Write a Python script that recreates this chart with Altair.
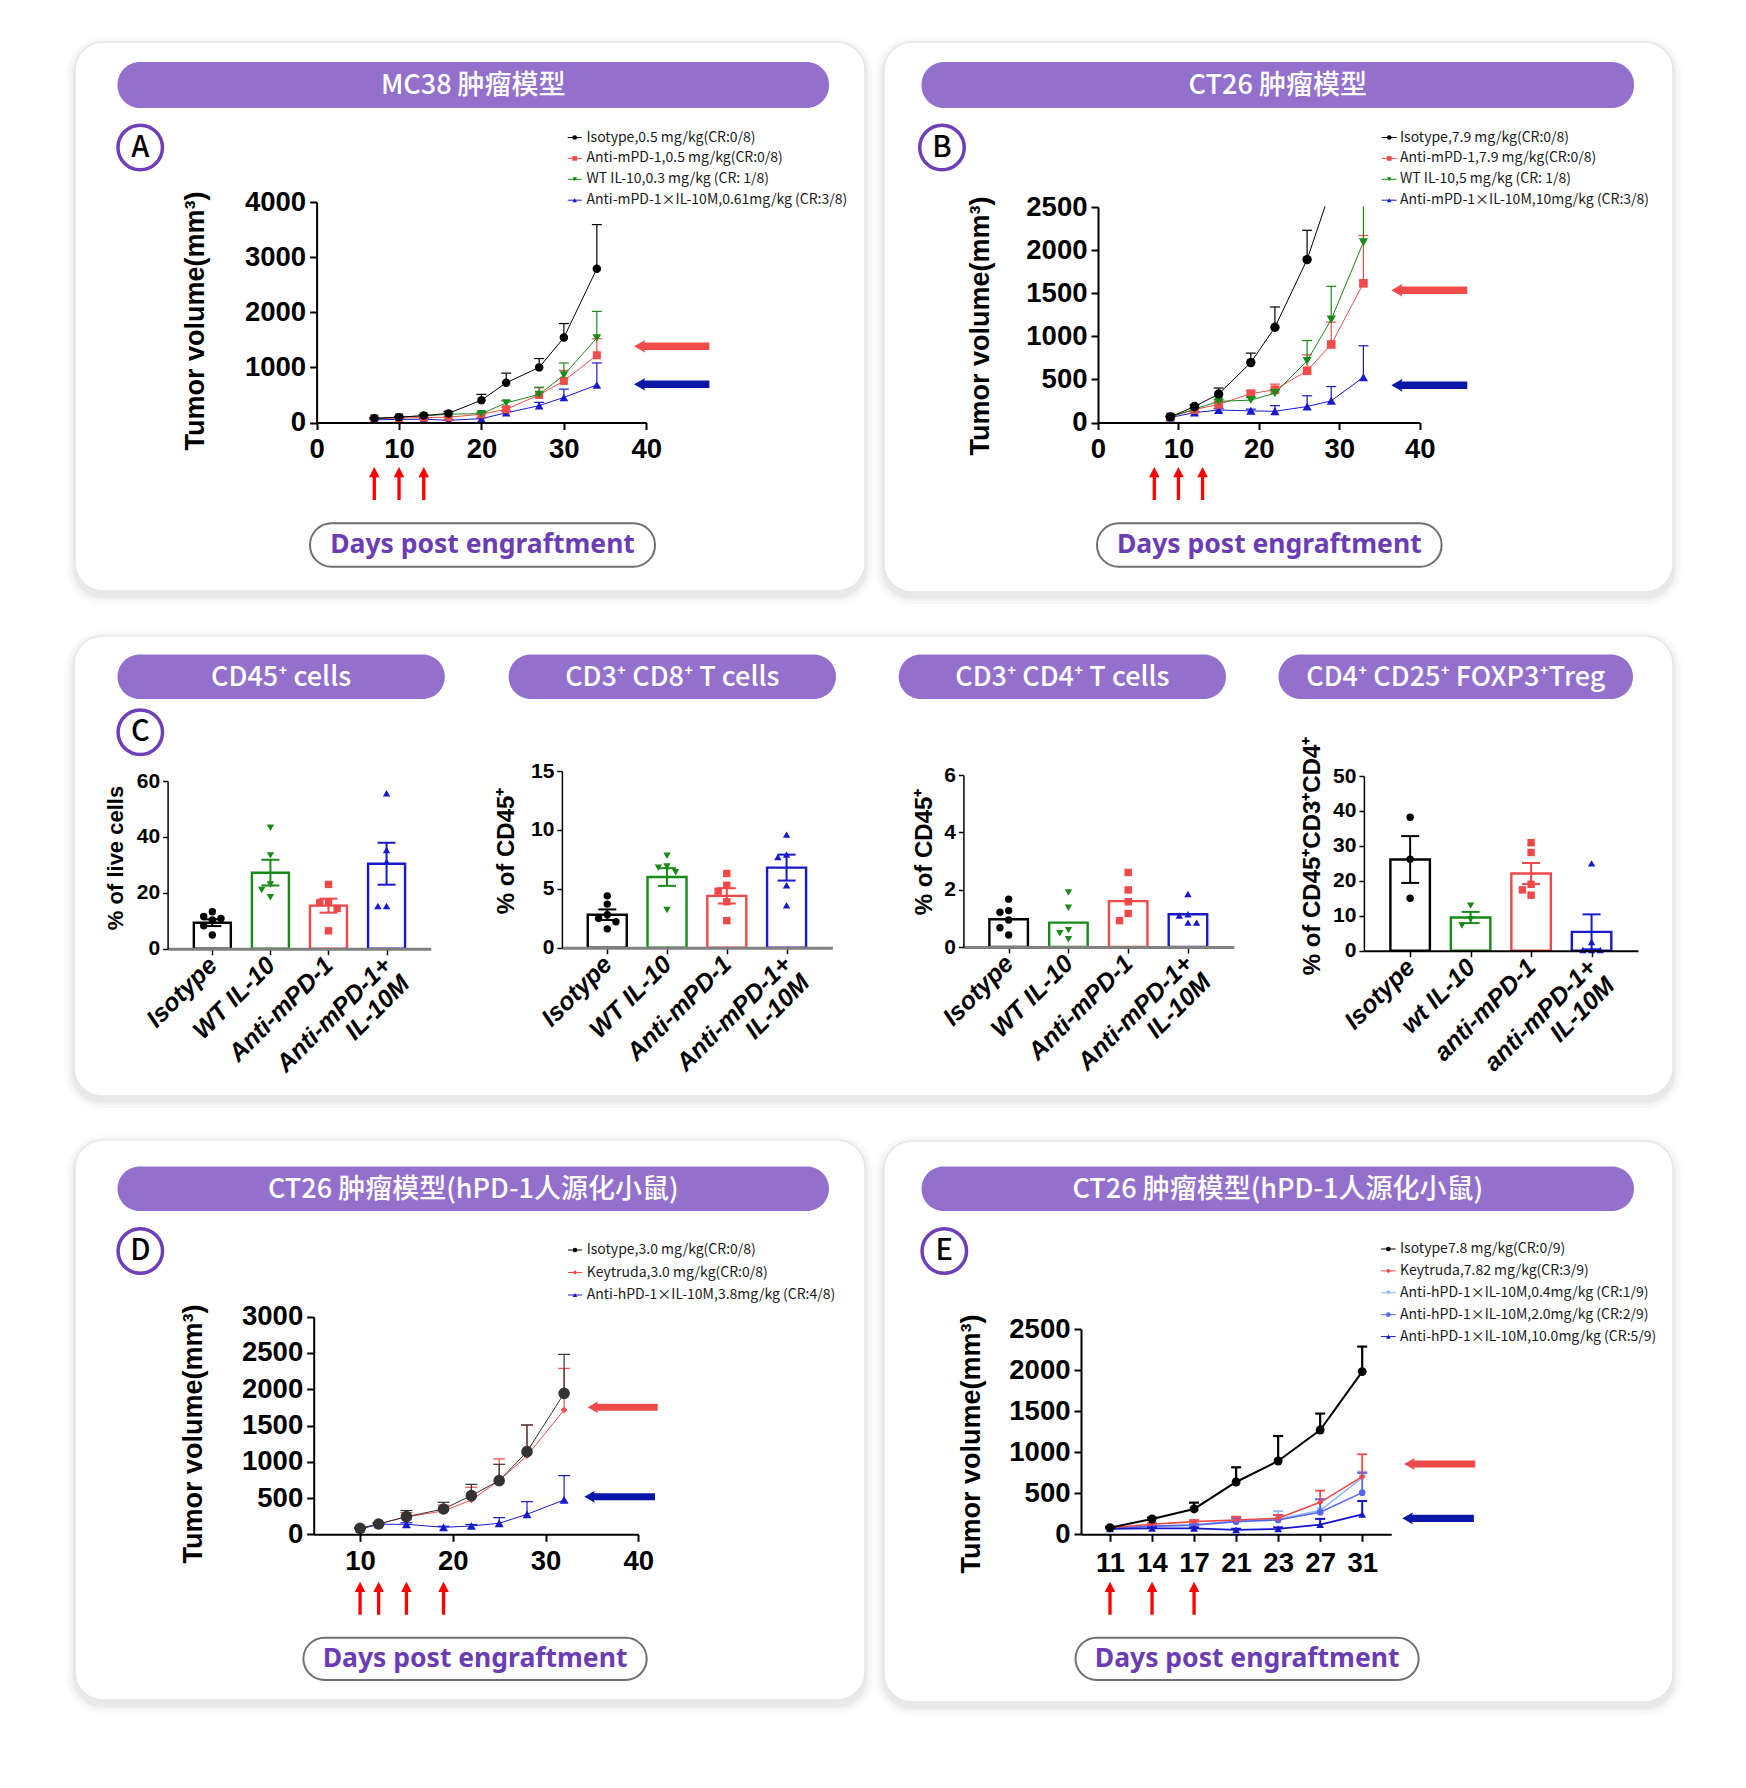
import altair as alt
import pandas as pd

# ======================= DATA =======================
# Panel A : MC38 tumour model
A_days = [7, 10, 13, 16, 20, 23, 27, 30, 34]
A_iso = [75, 95, 125, 165, 405, 720, 1000, 1540, 2790]
A_iso_sem = [10, 15, 20, 35, 105, 175, 160, 255, 800]
A_pd1 = [70, 80, 90, 95, 150, 240, 500, 755, 1220]
A_pd1_sem = [8, 10, 10, 12, 25, 40, 130, 190, 300]
A_il10 = [75, 100, 120, 150, 160, 355, 510, 860, 1535]
A_il10_sem = [10, 12, 15, 20, 25, 40, 130, 220, 480]
A_combo = [50, 55, 60, 40, 70, 175, 305, 455, 680]
A_combo_sem = [5, 8, 10, 10, 15, 30, 60, 150, 400]
A_dose = [7, 10, 13]
A_labels = ["Isotype,0.5 mg/kg(CR:0/8)", "Anti-mPD-1,0.5 mg/kg(CR:0/8)",
            "WT IL-10,0.3 mg/kg (CR: 1/8)", "Anti-mPD-1×IL-10M,0.61mg/kg (CR:3/8)"]

# Panel B : CT26 tumour model
B_days = [9, 12, 15, 19, 22, 26, 29, 33]
B_iso = [65, 185, 330, 695, 1105, 1890, 2720]
B_iso_sem = [10, 20, 70, 110, 235, 340, 0]
B_pd1 = [65, 150, 210, 335, 380, 600, 905, 1615]
B_pd1_sem = [10, 15, 25, 30, 65, 185, 260, 555]
B_il10 = [65, 155, 245, 260, 340, 715, 1195, 2090]
B_il10_sem = [10, 15, 20, 30, 40, 235, 385, 600]
B_combo = [58, 115, 145, 135, 130, 185, 252, 525]
B_combo_sem = [8, 10, 15, 20, 65, 125, 165, 365]
B_dose = [7, 10, 13]
B_labels = ["Isotype,7.9 mg/kg(CR:0/8)", "Anti-mPD-1,7.9 mg/kg(CR:0/8)",
            "WT IL-10,5 mg/kg (CR: 1/8)", "Anti-mPD-1×IL-10M,10mg/kg (CR:3/8)"]

# Panel C : flow cytometry bars
C_groups = ["Isotype", "WT IL-10", "Anti-mPD-1", "Anti-mPD-1+|IL-10M"]
C4_groups = ["Isotype", "wt IL-10", "anti-mPD-1", "anti-mPD-1+|IL-10M"]
C1_mean = [9.3, 27.2, 15.4, 30.4]
C1_sem = [1.2, 4.6, 2.5, 7.5]
C1_pts = [[13.2, 11.5, 10.8, 10.3, 8.2, 4.9], [43.3, 33.4, 23.0, 21.0, 18.4],
          [23.0, 16.7, 16.5, 14.4, 6.4], [55.6, 35.3, 31.1, 15.3, 15.3]]
C2_mean = [2.8, 6.0, 4.4, 6.8]
C2_sem = [0.45, 0.75, 0.65, 1.1]
C2_pts = [[4.4, 3.7, 2.8, 2.5, 2.2, 1.6], [7.8, 6.9, 6.8, 6.4, 3.2],
          [6.3, 5.3, 4.8, 3.9, 2.3], [9.6, 7.9, 7.7, 5.3, 3.6]]
C3_mean = [0.97, 0.85, 1.6, 1.14]
C3_pts = [[1.67, 1.27, 1.21, 0.94, 0.67, 0.42], [1.9, 1.37, 0.59, 0.48, 0.27],
          [2.6, 1.99, 1.58, 1.17, 0.92], [1.85, 1.14, 1.1, 0.85, 0.85]]
C4_mean = [26.1, 9.5, 22.1, 5.4]
C4_sem = [6.7, 1.6, 3.0, 5.0]
C4_pts = [[38.2, 26.2, 15.0], [12.9, 9.0, 7.2],
          [30.9, 28.1, 19.0, 17.4, 15.9], [25.0, 2.5, 0.2, 0.2, 0.2]]

# Panel D : CT26 in hPD-1 mice
D_days = [10, 12, 15, 19, 22, 25, 28, 32]
D_iso = [83, 142, 243, 349, 533, 740, 1139, 1943]
D_iso_sem = [10, 15, 85, 92, 156, 225, 368, 538]
D_key = [83, 145, 240, 322, 473, 740, 1084, 1714]
D_key_sem = [10, 15, 60, 80, 175, 300, 423, 574]
D_combo = [70, 138, 138, 96, 115, 152, 276, 473]
D_combo_sem = [10, 15, 20, 15, 20, 78, 174, 336]
D_dose = [10, 12, 15, 19]
D_labels = ["Isotype,3.0 mg/kg(CR:0/8)", "Keytruda,3.0 mg/kg(CR:0/8)",
            "Anti-hPD-1×IL-10M,3.8mg/kg (CR:4/8)"]

# Panel E : CT26 in hPD-1 mice, dose range
E_days = ["11", "14", "17", "21", "23", "27", "31"]
E_iso = [81, 187, 309, 638, 894, 1272, 1984]
E_iso_sem = [10, 15, 77, 179, 305, 200, 305]
E_key = [80, 122, 154, 175, 195, 390, 703]
E_key_sem = [10, 15, 20, 40, 40, 143, 273]
E_04 = [70, 100, 115, 163, 187, 289, 690]
E_04_sem = [8, 12, 15, 45, 95, 135, 75]
E_20 = [70, 100, 110, 154, 175, 268, 508]
E_20_sem = [8, 10, 15, 40, 60, 160, 240]
E_10 = [65, 73, 73, 53, 65, 118, 244]
E_10_sem = [8, 10, 12, 15, 20, 70, 162]
E_dose = ["11", "14", "17"]
E_labels = ["Isotype7.8 mg/kg(CR:0/9)", "Keytruda,7.82 mg/kg(CR:3/9)",
            "Anti-hPD-1×IL-10M,0.4mg/kg (CR:1/9)", "Anti-hPD-1×IL-10M,2.0mg/kg (CR:2/9)",
            "Anti-hPD-1×IL-10M,10.0mg/kg (CR:5/9)"]

# ======================= STYLE / LAYOUT =======================
W, H = 1730, 1772
M = 8


def X(v):
    return v - M


def Y(v):
    return v - M


NUM = "Liberation Sans, Arial, Helvetica, sans-serif"
CJK = "Noto Sans CJK SC, Noto Sans, sans-serif"
LAT = "Noto Sans, Noto Sans CJK SC, sans-serif"
PURPLE = "#9370CC"
RING = "#6E40B8"
DAYS_C = "#6B3DB5"
BLACK, RED, GREEN, BLUE = "#000000", "#F24B4B", "#178A17", "#1818CC"
ARROW_RED, ARROW_BLUE = "#F04B4B", "#0B17A6"
COLS_C = [BLACK, GREEN, "#F04848", BLUE]
SHP_C = ["circle", "triangle-down", "square", "triangle-up"]

LEFT_ARROW = "M -1 0 L -0.7 -0.17 L -0.73 -0.1 L 1 -0.1 L 1 0.1 L -0.73 0.1 L -0.7 0.17 Z"
UP_ARROW = "M 0 -1 L 0.32 -0.38 L 0.1 -0.38 L 0.1 1 L -0.1 1 L -0.1 -0.38 L -0.32 -0.38 Z"


def pxX(f="x"):
    return alt.X(f + ":Q", scale=None, axis=None)


def pxY(f="y"):
    return alt.Y(f + ":Q", scale=None, axis=None)


layers = []

# ---------- cards with soft shadow ----------
CARDS = [(75, 42, 865, 591), (884, 42, 1673, 592), (74, 636, 1673, 1096),
         (75, 1140, 865, 1700), (884, 1141, 1673, 1702)]
for grow, op in [(10, 0.012), (7, 0.018), (4, 0.024), (2, 0.03)]:
    d = pd.DataFrame([{"x": X(a) - grow, "x2": X(c) + grow, "y": Y(b) - grow + 4, "y2": Y(e) + grow + 5}
                      for a, b, c, e in CARDS])
    layers.append(alt.Chart(d).mark_rect(cornerRadius=28 + grow, color="#000000", opacity=op)
                  .encode(x=pxX(), x2="x2:Q", y=pxY(), y2="y2:Q"))
d = pd.DataFrame([{"x": X(a), "x2": X(c), "y": Y(b), "y2": Y(e)} for a, b, c, e in CARDS])
layers.append(alt.Chart(d).mark_rect(cornerRadius=28, fill="white", stroke="#E6E6E6", strokeWidth=1.5)
              .encode(x=pxX(), x2="x2:Q", y=pxY(), y2="y2:Q"))

# ---------- purple title pills ----------
PILLS = [(117.5, 62, 829, 108, "MC38 肿瘤模型"), (921.5, 62, 1634, 108, "CT26 肿瘤模型"),
         (117.5, 654.5, 444.8, 699, "CD45⁺ cells"), (508.6, 654.5, 836, 699, "CD3⁺ CD8⁺ T cells"),
         (898.7, 654.5, 1226, 699, "CD3⁺ CD4⁺ T cells"), (1278.5, 654.5, 1633, 699, "CD4⁺ CD25⁺ FOXP3⁺Treg"),
         (117.5, 1166.5, 829, 1211, "CT26 肿瘤模型(hPD-1人源化小鼠)"),
         (921.5, 1166.5, 1634, 1211, "CT26 肿瘤模型(hPD-1人源化小鼠)")]
d = pd.DataFrame([{"x": X(a), "x2": X(c), "y": Y(b), "y2": Y(e), "tx": X((a + c) / 2), "ty": Y((b + e) / 2) + 1,
                   "t": t} for a, b, c, e, t in PILLS])
layers.append(alt.Chart(d).mark_rect(cornerRadius=22.5, fill=PURPLE)
              .encode(x=pxX(), x2="x2:Q", y=pxY(), y2="y2:Q"))
layers.append(alt.Chart(d).mark_text(font=CJK, fontSize=27, fontWeight=500, color="white",
                                     align="center", baseline="middle")
              .encode(x=pxX("tx"), y=pxY("ty"), text="t:N"))

# ---------- "Days post engraftment" pills ----------
DAYP = [(310, 523.3, 655, 566.7), (1097, 523.3, 1441.6, 566.7),
        (303.4, 1637.7, 646.7, 1680), (1075.5, 1637.7, 1418.7, 1680)]
d = pd.DataFrame([{"x": X(a), "x2": X(c), "y": Y(b), "y2": Y(e), "tx": X((a + c) / 2), "ty": Y((b + e) / 2),
                   "t": "Days post engraftment"} for a, b, c, e in DAYP])
layers.append(alt.Chart(d).mark_rect(cornerRadius=21.5, fill="white", stroke="#707070", strokeWidth=2)
              .encode(x=pxX(), x2="x2:Q", y=pxY(), y2="y2:Q"))
layers.append(alt.Chart(d).mark_text(font=LAT, fontSize=26.5, fontWeight="bold", color=DAYS_C,
                                     align="center", baseline="middle")
              .encode(x=pxX("tx"), y=pxY("ty"), text="t:N"))

# ---------- panel letters ----------
LETTERS = [(140.2, 147.5, "A"), (942, 147.5, "B"), (140.3, 732.2, "C"), (140.3, 1251, "D"), (944.3, 1251, "E")]
d = pd.DataFrame([{"x": X(a), "y": Y(b), "t": t} for a, b, t in LETTERS])
layers.append(alt.Chart(d).mark_circle(size=1980, fill="white", stroke=RING, strokeWidth=3.5, opacity=1)
              .encode(x=pxX(), y=pxY()))
layers.append(alt.Chart(d).mark_text(font=CJK, fontSize=29, fontWeight=500, color="black",
                                     align="center", baseline="middle")
              .encode(x=pxX(), y=pxY(), text="t:N"))


# ======================= line panels =======================
def line_axes(xvals, x0, ybot, yvals, xpad, fs=27.5, ordinal=False):
    common = dict(title=None, grid=False, labelFont=NUM, labelFontSize=fs, labelFontWeight="bold",
                  labelColor="black", labelFlush=False, labelOverlap=False, zindex=2,
                  tickSize=7, tickWidth=2, tickColor="black", domainColor="black", domainWidth=2)
    if ordinal:
        xax = alt.Axis(orient="bottom", offset=Y(ybot) - H, values=xvals, labelPadding=xpad, labelAngle=0,
                       **common)
    else:
        xax = alt.Axis(orient="bottom", offset=Y(ybot) - H, values=xvals, labelPadding=xpad, labelAngle=0,
                       format="d", **common)
    yax = alt.Axis(orient="left", offset=-X(x0), values=yvals, format="d", labelPadding=4, **common)
    return xax, yax


def line_panel(xv, series, xsc, ysc, xax, yax, dose, dose_y, xtype="Q", cap=10):
    sub = []
    for ys_, sems, col, shp, sz, lwi in series:
        n = len(ys_)
        df = pd.DataFrame({"x": xv[:n], "y": ys_, "top": [a + b for a, b in zip(ys_, sems)]})
        xe = alt.X("x:" + xtype, scale=xsc, axis=xax)
        ye = alt.Y("y:Q", scale=ysc, axis=yax)
        b = alt.Chart(df)
        sub.append(b.mark_rule(color=col, strokeWidth=lwi + 0.2).encode(x=xe, y=ye, y2="top:Q"))
        sub.append(b.mark_tick(color=col, orient="horizontal", size=cap, thickness=lwi + 0.2, opacity=1)
                   .encode(x=xe, y=alt.Y("top:Q", scale=ysc, axis=yax)))
        sub.append(b.mark_line(color=col, strokeWidth=lwi).encode(x=xe, y=ye))
        sub.append(b.mark_point(color=col, shape=shp, size=sz, filled=True, opacity=1).encode(x=xe, y=ye))
    ddf = pd.DataFrame({"x": dose})
    sub.append(alt.Chart(ddf).mark_point(shape=UP_ARROW, size=1089, filled=True, color="#FF0000",
                                         opacity=1, strokeWidth=0)
               .encode(x=alt.X("x:" + xtype, scale=xsc, axis=xax), y=alt.value(Y(dose_y))))
    return alt.layer(*sub)


# Panel A
xsA = alt.Scale(domain=[0, 40], range=[X(316.6), X(646.3)], nice=False, zero=False)
ysA = alt.Scale(domain=[0, 4000], range=[Y(422.5), Y(202)], nice=False)
xaA, yaA = line_axes([0, 10, 20, 30, 40], 316.6, 422.5, [0, 1000, 2000, 3000, 4000], 6)
layers.append(line_panel(A_days, [
    (A_combo, A_combo_sem, BLUE, "triangle-up", 75, 1.0),
    (A_pd1, A_pd1_sem, RED, "square", 65, 1.0),
    (A_il10, A_il10_sem, GREEN, "triangle-down", 75, 1.0),
    (A_iso, A_iso_sem, BLACK, "circle", 72, 1.0)], xsA, ysA, xaA, yaA, A_dose, 483.5))

# Panel B
xsB = alt.Scale(domain=[0, 40], range=[X(1098), X(1419.7)], nice=False, zero=False)
ysB = alt.Scale(domain=[0, 2500], range=[Y(422.5), Y(207)], nice=False)
xaB, yaB = line_axes([0, 10, 20, 30, 40], 1098, 422.5, [0, 500, 1000, 1500, 2000, 2500], 6)
layers.append(line_panel(B_days, [
    (B_combo, B_combo_sem, BLUE, "triangle-up", 85, 1.0),
    (B_pd1, B_pd1_sem, RED, "square", 75, 1.0),
    (B_il10, B_il10_sem, GREEN, "triangle-down", 85, 1.0),
    (B_iso, B_iso_sem, BLACK, "circle", 88, 1.0)], xsB, ysB, xaB, yaB, B_dose, 483.5))

# Panel D
xsD = alt.Scale(domain=[5, 40], range=[X(313.7), X(638.3)], nice=False, zero=False)
ysD = alt.Scale(domain=[0, 3000], range=[Y(1534.3), Y(1316.7)], nice=False)
xaD, yaD = line_axes([10, 20, 30, 40], 313.7, 1534.3, [0, 500, 1000, 1500, 2000, 2500, 3000], 6)
layers.append(line_panel(D_days, [
    (D_combo, D_combo_sem, BLUE, "triangle-up", 80, 1.0),
    (D_key, D_key_sem, RED, "diamond", 45, 1.0),
    (D_iso, D_iso_sem, "#333333", "circle", 135, 1.0)], xsD, ysD, xaD, yaD, D_dose, 1598.3, cap=12))

# Panel E
xsE = alt.Scale(type="point", domain=E_days, range=[X(1081), X(1391.2)], padding=0.69)
ysE = alt.Scale(domain=[0, 2500], range=[Y(1534.3), Y(1329.3)], nice=False)
xaE, yaE = line_axes(E_days, 1081, 1534.3, [0, 500, 1000, 1500, 2000, 2500], 8, ordinal=True)
layers.append(line_panel(E_days, [
    (E_04, E_04_sem, "#8DB6F2", "triangle-down", 55, 1.6),
    (E_20, E_20_sem, "#5566EE", "circle", 45, 1.6),
    (E_key, E_key_sem, "#F04848", "diamond", 40, 1.6),
    (E_10, E_10_sem, "#1515C8", "triangle-up", 60, 1.8),
    (E_iso, E_iso_sem, BLACK, "circle", 80, 2.0)], xsE, ysE, xaE, yaE, E_dose, 1598.3, xtype="O"))


# ======================= bar panels (C) =======================
def dodge(vals, ppu, thr=8.0):
    placed, out = [], []
    for v in vals:
        kk = 0
        for k in [0, -1, 1, -2, 2, -3, 3]:
            if all(pk != k or abs(v - pv) * ppu >= thr for pv, pk in placed):
                kk = k
                break
        placed.append((v, kk))
        out.append(kk)
    return out


def bar_panel(names, means, sems, pts, ymax, yvals, x0, x1, c0, c3, ybot, ytop, bw, dom_color, dom_w):
    step = (c3 - c0) / 3
    lo = (x0 - c0) / step
    hi = 3 + (x1 - c3) / step
    xs = alt.Scale(domain=[lo, hi], range=[X(x0), X(x1)], nice=False, zero=False)
    ys = alt.Scale(domain=[0, ymax], range=[Y(ybot), Y(ytop)], nice=False)
    arr = "[" + ",".join("'" + n + "'" for n in names) + "]"
    xax = alt.Axis(orient="bottom", offset=Y(ybot) - H, values=[0, 1, 2, 3], title=None, grid=False,
                   labelExpr="split(" + arr + "[datum.value], '|')",
                   labelAngle=315, labelAlign="right", labelBaseline="middle",
                   labelFont=NUM, labelFontSize=25, labelFontWeight="bold", labelFontStyle="italic",
                   labelColor="black", labelPadding=6, labelLineHeight=26, labelFlush=False, labelOverlap=False,
                   tickSize=6, tickWidth=1.5, tickColor="black", domainColor=dom_color, domainWidth=dom_w,
                   zindex=2)
    yax = alt.Axis(orient="left", offset=-X(x0), values=yvals, title=None, grid=False, format="d",
                   labelFont=NUM, labelFontSize=21, labelFontWeight="bold", labelColor="black",
                   labelPadding=3, labelFlush=False, labelOverlap=False,
                   tickSize=5, tickWidth=1.5, tickColor="black", domainColor="black", domainWidth=1.5,
                   zindex=2)
    bdf = pd.DataFrame({"i": list(range(4)), "m": means, "col": COLS_C})
    sub = [alt.Chart(bdf).mark_bar(orient="vertical", width=bw, fill="white", strokeWidth=2.4)
           .encode(x=alt.X("i:Q", scale=xs, axis=xax), y=alt.Y("m:Q", scale=ys, axis=yax),
                   stroke=alt.Stroke("col:N", scale=None))]
    ppu = (ybot - ytop) / ymax
    rows = []
    for i, vals in enumerate(pts):
        for v, o in zip(vals, dodge(vals, ppu)):
            rows.append({"i": i + o * 9.0 / step, "v": v, "col": COLS_C[i], "shp": SHP_C[i]})
    pdf = pd.DataFrame(rows)
    sub.append(alt.Chart(pdf).mark_point(filled=True, size=55, opacity=1)
               .encode(x=alt.X("i:Q", scale=xs, axis=xax), y=alt.Y("v:Q", scale=ys, axis=yax),
                       color=alt.Color("col:N", scale=None), shape=alt.Shape("shp:N", scale=None)))
    if sems:
        edf = pd.DataFrame({"i": list(range(4)), "lo": [m - s for m, s in zip(means, sems)],
                            "hi": [m + s for m, s in zip(means, sems)], "col": COLS_C})
        e = alt.Chart(edf)
        sub.append(e.mark_rule(strokeWidth=2).encode(
            x=alt.X("i:Q", scale=xs, axis=xax), y=alt.Y("lo:Q", scale=ys, axis=yax), y2="hi:Q",
            color=alt.Color("col:N", scale=None)))
        for f in ["lo", "hi"]:
            sub.append(e.mark_tick(orient="horizontal", size=18, thickness=2, opacity=1).encode(
                x=alt.X("i:Q", scale=xs, axis=xax), y=alt.Y(f + ":Q", scale=ys, axis=yax),
                color=alt.Color("col:N", scale=None)))
    return alt.layer(*sub)


layers.append(bar_panel(C_groups, C1_mean, C1_sem, C1_pts, 60, [0, 20, 40, 60],
                        167.6, 430.8, 208.9, 390.0, 948.7, 781, 37, "#808080", 3))
layers.append(bar_panel(C_groups, C2_mean, C2_sem, C2_pts, 15, [0, 5, 10, 15],
                        561.9, 832.4, 603.8, 790.0, 947.7, 771, 39, "#808080", 3))
layers.append(bar_panel(C_groups, C3_mean, None, C3_pts, 6, [0, 2, 4, 6],
                        963.4, 1233.8, 1005.2, 1191.4, 947, 775, 38.5, "#808080", 3))
layers.append(bar_panel(C4_groups, C4_mean, C4_sem, C4_pts, 50, [0, 10, 20, 30, 40, 50],
                        1363.9, 1637.9, 1406.7, 1595.0, 950.7, 776, 39.5, "black", 2))

# ---------- mask line overflow above panel B's top ----------
d = pd.DataFrame([{"x": X(1100), "x2": X(1378), "y": Y(112), "y2": Y(206.3)}])
layers.append(alt.Chart(d).mark_rect(fill="white").encode(x=pxX(), x2="x2:Q", y=pxY(), y2="y2:Q"))

# ---------- axis titles ----------
d = pd.DataFrame([{"x": X(a), "y": Y(b), "t": "Tumor volume(mm³)"}
                  for a, b in [(195.5, 321), (981.3, 326), (194.3, 1434), (971.8, 1444)]])
layers.append(alt.Chart(d).mark_text(angle=270, align="center", baseline="middle", font=NUM,
                                     fontSize=27, fontWeight="bold", color="black")
              .encode(x=pxX(), y=pxY(), text="t:N"))
d = pd.DataFrame([{"x": X(a), "y": Y(b), "t": t, "fs": fs} for a, b, t, fs in
                  [(115.5, 858, "% of live cells", 22), (507, 851, "% of CD45⁺", 24),
                   (925, 852, "% of CD45⁺", 24), (1313, 856, "% of CD45⁺CD3⁺CD4⁺", 24)]])
layers.append(alt.Chart(d).mark_text(angle=270, align="center", baseline="middle", font=NUM,
                                     fontWeight="bold", color="black")
              .encode(x=pxX(), y=pxY(), text="t:N", size=alt.Size("fs:Q", scale=None)))

# ---------- horizontal indicator arrows ----------
HARR = [(634, 709.4, 346.3, ARROW_RED), (634, 709.4, 384.3, ARROW_BLUE),
        (1391.3, 1467.3, 290.3, ARROW_RED), (1391.3, 1467.3, 385.3, ARROW_BLUE),
        (587.7, 657.7, 1407.3, ARROW_RED), (584.3, 655, 1496.7, ARROW_BLUE),
        (1404, 1475.3, 1464, ARROW_RED), (1402.3, 1473.9, 1518.3, ARROW_BLUE)]
d = pd.DataFrame([{"x": X((a + b) / 2), "y": Y(c), "s": (b - a) ** 2, "col": col} for a, b, c, col in HARR])
layers.append(alt.Chart(d).mark_point(shape=LEFT_ARROW, filled=True, opacity=1, strokeWidth=0)
              .encode(x=pxX(), y=pxY(), size=alt.Size("s:Q", scale=None),
                      color=alt.Color("col:N", scale=None)))


# ---------- legends ----------
def legend(labels, colors, shapes, sx1, sx2, tx, y0, dy):
    n = len(labels)
    df = pd.DataFrame({"x": [X(sx1)] * n, "x2": [X(sx2)] * n, "xm": [X((sx1 + sx2) / 2)] * n,
                       "tx": [X(tx)] * n, "y": [Y(y0 + i * dy) for i in range(n)],
                       "t": labels, "col": colors, "shp": shapes})
    b = alt.Chart(df)
    return [b.mark_rule(strokeWidth=1).encode(x=pxX("x"), x2="x2:Q", y=pxY("y"),
                                              color=alt.Color("col:N", scale=None)),
            b.mark_point(filled=True, size=22, opacity=1).encode(
                x=pxX("xm"), y=pxY("y"), color=alt.Color("col:N", scale=None),
                shape=alt.Shape("shp:N", scale=None)),
            b.mark_text(align="left", baseline="middle", font=CJK, fontSize=14, color="#1a1a1a")
            .encode(x=pxX("tx"), y=pxY("y"), text="t:N")]


layers += legend(A_labels, [BLACK, RED, GREEN, BLUE], ["circle", "square", "triangle-down", "triangle-up"],
                 567.7, 581.7, 586.5, 137.5, 20.9)
layers += legend(B_labels, [BLACK, RED, GREEN, BLUE], ["circle", "square", "triangle-down", "triangle-up"],
                 1381.7, 1396.7, 1400, 137.5, 20.9)
layers += legend(D_labels, [BLACK, "#F04848", BLUE], ["circle", "diamond", "triangle-up"],
                 568, 582, 586.7, 1250, 22.5)
layers += legend(E_labels, [BLACK, "#F04848", "#8DB6F2", "#5566EE", "#1515C8"],
                 ["circle", "diamond", "triangle-down", "circle", "triangle-up"],
                 1381, 1395.7, 1400, 1249, 21.9)

chart = (alt.layer(*layers)
         .resolve_scale(x="independent", y="independent")
         .properties(width=W, height=H, autosize=alt.AutoSizeParams(type="none"), padding=0,
                     background="white")
         .configure_view(stroke=None))

chart.save("out.html", embed_options={"renderer": "svg", "actions": False})
